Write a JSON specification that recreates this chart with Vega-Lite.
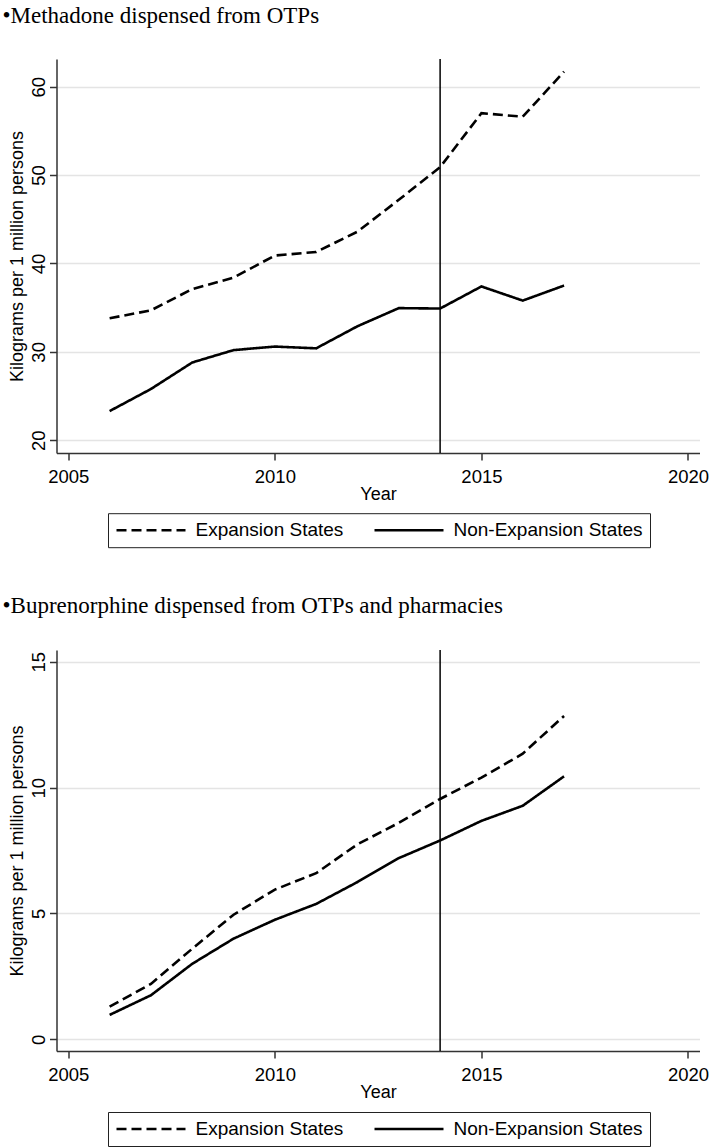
{
  "$schema": "https://vega.github.io/schema/vega-lite/v6.json",
  "padding": {"left": 2.5, "top": 5, "right": 0, "bottom": 0},
  "background": "white",
  "spacing": 46,
  "datasets": {
    "methadone": [
      {"year": 2006, "group": "Expansion States", "value": 33.8},
      {"year": 2007, "group": "Expansion States", "value": 34.7},
      {"year": 2008, "group": "Expansion States", "value": 37.1},
      {"year": 2009, "group": "Expansion States", "value": 38.4},
      {"year": 2010, "group": "Expansion States", "value": 40.9},
      {"year": 2011, "group": "Expansion States", "value": 41.3},
      {"year": 2012, "group": "Expansion States", "value": 43.6},
      {"year": 2013, "group": "Expansion States", "value": 47.2},
      {"year": 2014, "group": "Expansion States", "value": 50.9},
      {"year": 2015, "group": "Expansion States", "value": 57.0},
      {"year": 2016, "group": "Expansion States", "value": 56.6},
      {"year": 2017, "group": "Expansion States", "value": 61.7},
      {"year": 2006, "group": "Non-Expansion States", "value": 23.3},
      {"year": 2007, "group": "Non-Expansion States", "value": 25.8},
      {"year": 2008, "group": "Non-Expansion States", "value": 28.8},
      {"year": 2009, "group": "Non-Expansion States", "value": 30.2},
      {"year": 2010, "group": "Non-Expansion States", "value": 30.6},
      {"year": 2011, "group": "Non-Expansion States", "value": 30.4},
      {"year": 2012, "group": "Non-Expansion States", "value": 32.9},
      {"year": 2013, "group": "Non-Expansion States", "value": 34.95},
      {"year": 2014, "group": "Non-Expansion States", "value": 34.9},
      {"year": 2015, "group": "Non-Expansion States", "value": 37.4},
      {"year": 2016, "group": "Non-Expansion States", "value": 35.8},
      {"year": 2017, "group": "Non-Expansion States", "value": 37.5}
    ],
    "buprenorphine": [
      {"year": 2006, "group": "Expansion States", "value": 1.3},
      {"year": 2007, "group": "Expansion States", "value": 2.2},
      {"year": 2008, "group": "Expansion States", "value": 3.6},
      {"year": 2009, "group": "Expansion States", "value": 4.95},
      {"year": 2010, "group": "Expansion States", "value": 5.95},
      {"year": 2011, "group": "Expansion States", "value": 6.6},
      {"year": 2012, "group": "Expansion States", "value": 7.75},
      {"year": 2013, "group": "Expansion States", "value": 8.6},
      {"year": 2014, "group": "Expansion States", "value": 9.55},
      {"year": 2015, "group": "Expansion States", "value": 10.4},
      {"year": 2016, "group": "Expansion States", "value": 11.35},
      {"year": 2017, "group": "Expansion States", "value": 12.85},
      {"year": 2006, "group": "Non-Expansion States", "value": 0.97},
      {"year": 2007, "group": "Non-Expansion States", "value": 1.75},
      {"year": 2008, "group": "Non-Expansion States", "value": 3.0},
      {"year": 2009, "group": "Non-Expansion States", "value": 4.0},
      {"year": 2010, "group": "Non-Expansion States", "value": 4.75},
      {"year": 2011, "group": "Non-Expansion States", "value": 5.38},
      {"year": 2012, "group": "Non-Expansion States", "value": 6.25},
      {"year": 2013, "group": "Non-Expansion States", "value": 7.2},
      {"year": 2014, "group": "Non-Expansion States", "value": 7.9},
      {"year": 2015, "group": "Non-Expansion States", "value": 8.68},
      {"year": 2016, "group": "Non-Expansion States", "value": 9.28},
      {"year": 2017, "group": "Non-Expansion States", "value": 10.45}
    ],
    "policy": [{"year": 2014}]
  },
  "resolve": {
    "scale": {"strokeDash": "independent", "x": "independent", "y": "independent"},
    "legend": {"strokeDash": "independent"}
  },
  "config": {
    "view": {"stroke": null},
    "axis": {
      "labelFont": "Liberation Sans",
      "titleFont": "Liberation Sans",
      "labelFontSize": 18.5,
      "titleFontSize": 18,
      "titleFontWeight": "normal",
      "labelColor": "black",
      "titleColor": "black",
      "domainColor": "#333333",
      "domainWidth": 1.5,
      "tickColor": "#333333",
      "tickWidth": 1.5,
      "tickSize": 7,
      "gridColor": "#e4e4e4",
      "gridWidth": 1.5
    },
    "axisX": {"grid": false, "labelPadding": 7, "titlePadding": 0, "labelFlush": false},
    "axisY": {
      "grid": true,
      "labelAngle": -90,
      "labelAlign": "center",
      "labelBaseline": "bottom",
      "labelPadding": 1,
      "minExtent": 27,
      "maxExtent": 27,
      "titlePadding": 3
    },
    "legend": {
      "symbolType": "stroke",
      "symbolSize": 4761,
      "symbolStrokeWidth": 2.6,
      "symbolStrokeColor": "black",
      "clipHeight": 20,
      "labelFont": "Liberation Sans",
      "labelFontSize": 19,
      "labelColor": "black",
      "labelOffset": 8.5,
      "labelLimit": 400,
      "columnPadding": 29,
      "padding": 7,
      "strokeColor": "#222222",
      "symbolOffset": 0
    }
  },
  "vconcat": [
    {
      "title": {
        "text": "•Methadone dispensed from OTPs",
        "anchor": "start",
        "frame": "group",
        "dx": -54,
        "offset": 30,
        "font": "Liberation Serif",
        "fontSize": 23,
        "fontWeight": "normal",
        "color": "black"
      },
      "width": 643,
      "height": 394,
      "layer": [
        {
          "data": {"name": "methadone"},
          "mark": {"type": "line", "color": "black", "strokeWidth": 2.6},
          "encoding": {
            "x": {"field": "year", "type": "quantitative", "title": "Year",
                  "scale": {"domain": [2004.714, 2020.279], "nice": false, "zero": false},
                  "axis": {"values": [2005, 2010, 2015, 2020], "format": "d"}},
            "y": {"field": "value", "type": "quantitative", "title": "Kilograms per 1 million persons",
                  "scale": {"domain": [18.56, 63.13], "nice": false, "zero": false},
                  "axis": {"values": [20, 30, 40, 50, 60]}},
            "strokeDash": {"field": "group", "type": "nominal",
                  "scale": {"domain": ["Expansion States", "Non-Expansion States"], "range": [[10, 5], [1, 0]]},
                  "legend": {"orient": "none", "legendX": 51.5, "legendY": 454.2, "direction": "horizontal", "title": null}}
          }
        },
        {
          "data": {"name": "policy"},
          "mark": {"type": "rule", "color": "black", "strokeWidth": 1.5},
          "encoding": {
            "x": {"field": "year", "type": "quantitative", "title": "Year"}
          }
        }
      ]
    },
    {
      "title": {
        "text": "•Buprenorphine dispensed from OTPs and pharmacies",
        "anchor": "start",
        "frame": "group",
        "dx": -54,
        "offset": 31.5,
        "font": "Liberation Serif",
        "fontSize": 23,
        "fontWeight": "normal",
        "color": "black"
      },
      "width": 643,
      "height": 401,
      "layer": [
        {
          "data": {"name": "buprenorphine"},
          "mark": {"type": "line", "color": "black", "strokeWidth": 2.6},
          "encoding": {
            "x": {"field": "year", "type": "quantitative", "title": "Year",
                  "scale": {"domain": [2004.714, 2020.279], "nice": false, "zero": false},
                  "axis": {"values": [2005, 2010, 2015, 2020], "format": "d"}},
            "y": {"field": "value", "type": "quantitative", "title": "Kilograms per 1 million persons",
                  "scale": {"domain": [-0.465, 15.47], "nice": false, "zero": false},
                  "axis": {"values": [0, 5, 10, 15]}},
            "strokeDash": {"field": "group", "type": "nominal",
                  "scale": {"domain": ["Expansion States", "Non-Expansion States"], "range": [[10, 5], [1, 0]]},
                  "legend": {"orient": "none", "legendX": 51.5, "legendY": 462, "direction": "horizontal", "title": null}}
          }
        },
        {
          "data": {"name": "policy"},
          "mark": {"type": "rule", "color": "black", "strokeWidth": 1.5},
          "encoding": {
            "x": {"field": "year", "type": "quantitative", "title": "Year"}
          }
        }
      ]
    }
  ]
}
